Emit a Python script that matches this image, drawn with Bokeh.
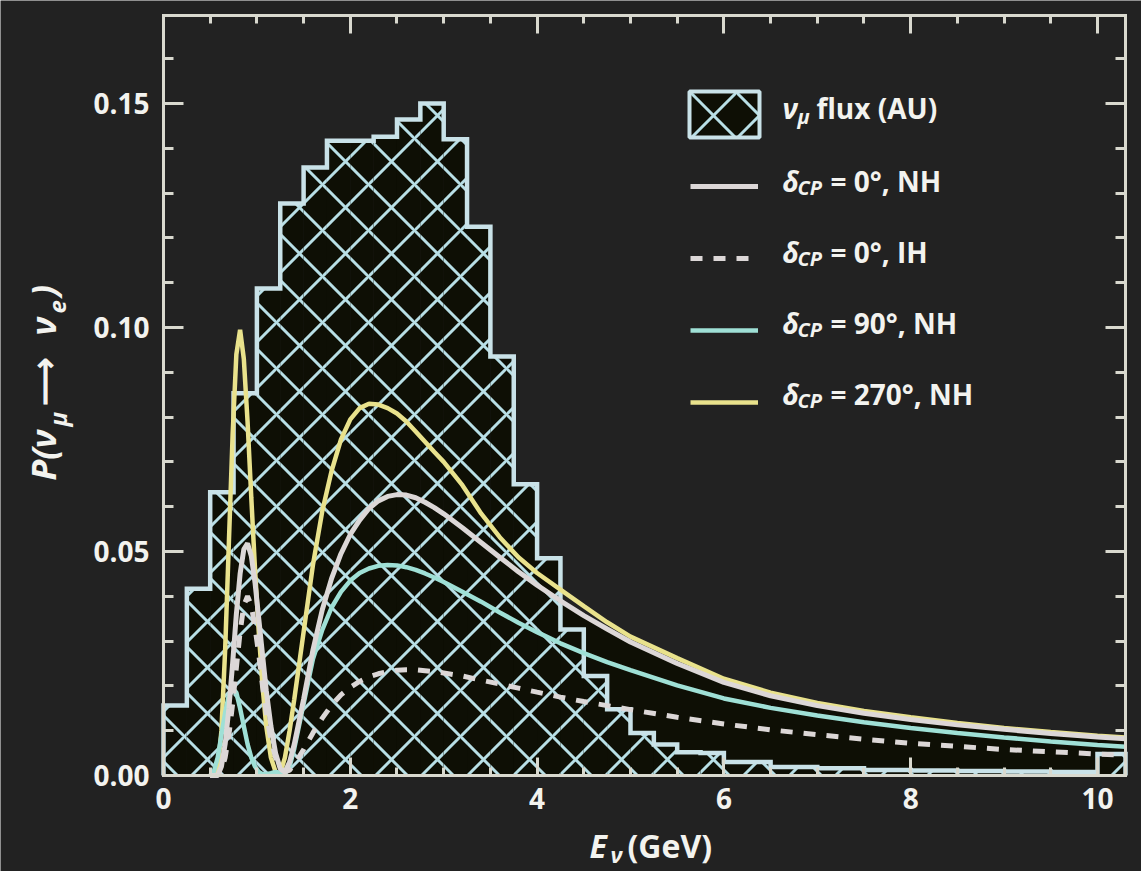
from bokeh.plotting import figure
from bokeh.models import (Range1d, LinearAxis, FixedTicker, Label, Legend,
                          LegendItem, ColumnDataSource, BoxAnnotation)
from bokeh.embed import file_html
from bokeh.resources import INLINE

# ---------------- data ----------------
# nu_mu flux histogram (arbitrary units): bin edges (GeV) and bin heights
flux_edges = [0.0, 0.25, 0.5, 0.75, 1.0, 1.25, 1.5, 1.75, 2.0, 2.25, 2.5, 2.75,
              3.0, 3.25, 3.5, 3.75, 4.0, 4.25, 4.5, 4.75, 5.0, 5.25, 5.5, 5.75,
              6.0, 6.5, 7.0, 7.5, 8.0, 8.5, 9.0, 9.5, 10.0, 10.3]
flux_values = [0.0156, 0.0417, 0.0632, 0.0853, 0.1087, 0.1277, 0.1357, 0.1417,
               0.1417, 0.1426, 0.1464, 0.1500, 0.1420, 0.1225, 0.0935, 0.0650,
               0.0485, 0.0326, 0.0222, 0.0148, 0.0095, 0.0069, 0.0052, 0.0050,
               0.0030, 0.0019, 0.0016, 0.0012, 0.0011, 0.0010, 0.0009, 0.0008,
               0.0048]

# oscillation probability curves
energy = [0.50, 0.54, 0.58, 0.62, 0.66, 0.70, 0.74, 0.78, 0.82, 0.86, 0.90,
          0.94, 0.98, 1.02, 1.06, 1.10, 1.15, 1.20, 1.25, 1.30, 1.35, 1.40,
          1.50, 1.60, 1.70, 1.80, 1.90, 2.00, 2.10, 2.20, 2.30, 2.40, 2.50,
          2.60, 2.70, 2.80, 2.90, 3.00, 3.20, 3.40, 3.60, 3.80, 4.00, 4.25,
          4.50, 4.75, 5.00, 5.50, 6.00, 6.50, 7.00, 7.50, 8.00, 8.50, 9.00,
          9.50, 10.00, 10.30]
p_d0_nh = [0.0, 0.0, 0.0, 0.002, 0.007, 0.015, 0.025, 0.036, 0.045, 0.0505,
           0.0518, 0.049, 0.043, 0.035, 0.027, 0.019, 0.011, 0.005, 0.0015,
           0.0008, 0.003, 0.007, 0.017, 0.028, 0.037, 0.044, 0.0495, 0.0538,
           0.0570, 0.0596, 0.0613, 0.0623, 0.0627, 0.0626, 0.0620, 0.0610,
           0.0598, 0.0584, 0.0553, 0.0520, 0.0487, 0.0455, 0.0425, 0.0390,
           0.0357, 0.0327, 0.0298, 0.0250, 0.0208, 0.0178, 0.0156, 0.0139,
           0.0125, 0.0113, 0.0103, 0.0094, 0.0086, 0.0082]
p_d0_ih = [0.0, 0.0, 0.0, 0.001, 0.004, 0.009, 0.016, 0.024, 0.032, 0.038,
           0.0400, 0.038, 0.033, 0.027, 0.020, 0.014, 0.008, 0.004, 0.0015,
           0.0008, 0.0012, 0.0025, 0.0058, 0.0095, 0.0128, 0.0157, 0.0180,
           0.0197, 0.0210, 0.0220, 0.0227, 0.0232, 0.0235, 0.0236, 0.0236,
           0.0234, 0.0232, 0.0229, 0.0222, 0.0213, 0.0204, 0.0195, 0.0186,
           0.0175, 0.0165, 0.0156, 0.0147, 0.0130, 0.0115, 0.0102, 0.0091,
           0.0081, 0.0072, 0.0065, 0.0058, 0.0053, 0.0048, 0.0045]
p_d90_nh = [0.0, 0.001, 0.004, 0.009, 0.014, 0.018, 0.0195, 0.0185, 0.015,
            0.011, 0.007, 0.004, 0.002, 0.0008, 0.0003, 0.0003, 0.0005, 0.0008,
            0.0006, 0.0005, 0.002, 0.006, 0.016, 0.026, 0.0325, 0.0375, 0.041,
            0.0435, 0.0452, 0.0462, 0.0468, 0.0470, 0.0469, 0.0465, 0.0459,
            0.0451, 0.0442, 0.0432, 0.0410, 0.0388, 0.0364, 0.0341, 0.0320,
            0.0295, 0.0273, 0.0253, 0.0235, 0.0201, 0.0172, 0.0151, 0.0134,
            0.0119, 0.0106, 0.0095, 0.0085, 0.0076, 0.0068, 0.0064]
p_d270_nh = [0.0, 0.0, 0.001, 0.010, 0.028, 0.052, 0.076, 0.094, 0.0995,
             0.093, 0.079, 0.062, 0.046, 0.032, 0.020, 0.011, 0.004, 0.0008,
             0.0005, 0.004, 0.010, 0.017, 0.032, 0.047, 0.059, 0.068, 0.075,
             0.0795, 0.0820, 0.0830, 0.0828, 0.0820, 0.0808, 0.0790, 0.0768,
             0.0745, 0.0722, 0.0700, 0.0648, 0.0585, 0.0532, 0.0487, 0.0452,
             0.0415, 0.0378, 0.0342, 0.0310, 0.0262, 0.0216, 0.0185, 0.0162,
             0.0144, 0.0130, 0.0117, 0.0106, 0.0097, 0.0089, 0.0085]

x_tick_values = [0, 2, 4, 6, 8, 10]
x_tick_labels = ["0", "2", "4", "6", "8", "10"]
y_tick_values = [0.0, 0.05, 0.10, 0.15]
y_tick_labels = ["0.00", "0.05", "0.10", "0.15"]

legend_labels = ["flux (AU)", "= 0°, NH", "= 0°, IH", "= 90°, NH", "= 270°, NH"]

# ---------------- layout / style ----------------
W, H = 1141, 871
FL, FT, FR, FB = 163, 15, 16, 96          # where the axes box sits on the canvas
FW, FH = W - FL - FR, H - FT - FB
X_END = 10.30
Y_END = 0.16964
PX_X = FW / X_END
PX_Y = FH / Y_END

BG = "#222222"
DARK = "#0e0f05"
FRAME = "#d9d9cf"
HIST_LINE = "#c9e2e8"
HATCH = "#b8dfe6"
WHITE = "#dcd7d7"
TEAL = "#9fe0d6"
YELLOW = "#e9e28c"
TEXT = "#f3f3ef"
FONT = "Open Sans"

# the frame covers the whole canvas; the visible axes box is made of axes
# fixed at the data limits, so texts outside the box are not clipped
p = figure(width=W, height=H,
           x_range=Range1d(-FL / PX_X, (W - FL) / PX_X),
           y_range=Range1d(-FB / PX_Y, (FT + FH) / PX_Y),
           output_backend="svg", toolbar_location=None, min_border=0,
           x_axis_location=None, y_axis_location=None,
           background_fill_color=BG, border_fill_color=BG)
p.grid.visible = False
p.outline_line_color = None

x_minor = [0.5 * k for k in range(0, 21)]
y_minor = [0.01 * k for k in range(0, 17)]


def make_axis(fixed, bounds, ticks, minor, labels, major_in, minor_in, show):
    ax = LinearAxis(fixed_location=fixed, bounds=bounds,
                    ticker=FixedTicker(ticks=ticks, minor_ticks=minor))
    ax.axis_line_color = FRAME
    ax.axis_line_width = 3
    ax.axis_line_cap = "square"
    ax.major_tick_in = major_in
    ax.major_tick_out = 0
    ax.minor_tick_in = minor_in
    ax.minor_tick_out = 0
    ax.major_tick_line_color = FRAME
    ax.major_tick_line_width = 3
    ax.minor_tick_line_color = FRAME
    ax.minor_tick_line_width = 3
    ax.major_label_text_font = FONT
    ax.major_label_text_font_style = "bold"
    ax.major_label_text_font_size = "28px"
    ax.major_label_text_color = TEXT
    if show:
        ax.major_label_overrides = dict(zip(ticks, labels))
    else:
        ax.major_label_overrides = {t: "" for t in ticks}
    return ax


xa = make_axis(0.0, (0, X_END), x_tick_values, x_minor, x_tick_labels, 18, 8, True)
xa.major_label_standoff = 12
p.add_layout(xa, "below")
ya = make_axis(0.0, (0, Y_END), y_tick_values, y_minor, y_tick_labels, 20, 10, True)
ya.major_label_standoff = 14
p.add_layout(ya, "left")
p.add_layout(make_axis(Y_END, (0, X_END), x_tick_values, x_minor, x_tick_labels,
                       18, 8, False), "above")
p.add_layout(make_axis(X_END, (0, Y_END), y_tick_values, y_minor, y_tick_labels,
                       20, 10, False), "right")

# dark area under the delta_CP = 0 NH curve
p.varea(x=energy, y1=[0.0] * len(energy), y2=p_d0_nh, fill_color=DARK)

# flux histogram
hist_src = ColumnDataSource(dict(left=flux_edges[:-1], right=flux_edges[1:],
                                 top=flux_values, bottom=[0.0] * len(flux_values)))
hatch_kw = dict(fill_color=DARK, hatch_pattern="x", hatch_color=HATCH,
                hatch_weight=3, hatch_scale=46)
p.quad(left="left", right="right", top="top", bottom="bottom", source=hist_src,
       line_alpha=0, **hatch_kw)
ox, oy = [flux_edges[0]], [0.0]
for l, r, v in zip(flux_edges[:-1], flux_edges[1:], flux_values):
    ox += [l, r]
    oy += [v, v]
ox.append(flux_edges[-1])
oy.append(0.0)
p.line(ox, oy, line_color=HIST_LINE, line_width=4.5, line_join="miter")

# probability curves
r270 = p.line(energy, p_d270_nh, line_color=YELLOW, line_width=4.5)
r90 = p.line(energy, p_d90_nh, line_color=TEAL, line_width=4.5)
rih = p.line(energy, p_d0_ih, line_color=WHITE, line_width=5, line_dash="12 11")
rnh = p.line(energy, p_d0_nh, line_color=WHITE, line_width=5)


def dx(px):
    return (px - FL) / PX_X


def dy(py):
    return (FT + FH - py) / PX_Y


# legend key for the flux histogram
p.add_layout(BoxAnnotation(left=dx(689), right=dx(759), top=dy(91), bottom=dy(137),
                           line_color=HIST_LINE, line_width=4, line_alpha=1,
                           fill_alpha=1, **hatch_kw))

# legend line swatches (labels drawn separately)
leg2 = Legend(items=[LegendItem(label=" ", renderers=[r]) for r in (rnh, rih, r90, r270)],
              location=(690, H - 412), glyph_width=68, glyph_height=20,
              label_height=20, label_text_font_size="1px", padding=0,
              spacing=52, margin=0, background_fill_alpha=0, border_line_alpha=0)
p.add_layout(leg2)


def add_text(txt, px, py, size, style="bold", angle=0.0, align="left"):
    p.add_layout(Label(x=dx(px), y=dy(py), text=txt, text_font=FONT,
                       text_font_size=size, text_font_style=style,
                       text_color=TEXT, text_align=align, text_baseline="middle",
                       angle=angle))


# legend texts (py = vertical centre of the text)
add_text("ν", 782, 107, "28px", "bold italic")
add_text("μ", 797, 116, "20px", "bold italic")
add_text(legend_labels[0], 816, 107, "28px")
for lab, cy in zip(legend_labels[1:], [180, 251, 322, 393]):
    add_text("δ", 782, cy, "28px", "bold italic")
    add_text("CP", 797, cy + 7, "20px", "bold italic")
    add_text(lab, 830, cy, "28px")

# x axis label
add_text("E", 589, 845, "32px", "bold italic")
add_text("ν", 610, 853, "22px", "bold italic")
add_text("(GeV)", 627, 845, "32px")

# y axis label (rotated, reads bottom to top)
ROT = 1.5707963
add_text("P(ν", 42, 480, "34px", "bold italic", ROT)
add_text("μ", 57, 426, "24px", "bold italic", ROT)
add_text("⟶", 42, 405, "34px", "bold", ROT)
add_text("ν", 42, 335, "34px", "bold italic", ROT)
add_text("e", 57, 313, "24px", "bold italic", ROT)
add_text(")", 42, 296, "34px", "bold italic", ROT)

open("out.html", "w").write(file_html(p, INLINE))
